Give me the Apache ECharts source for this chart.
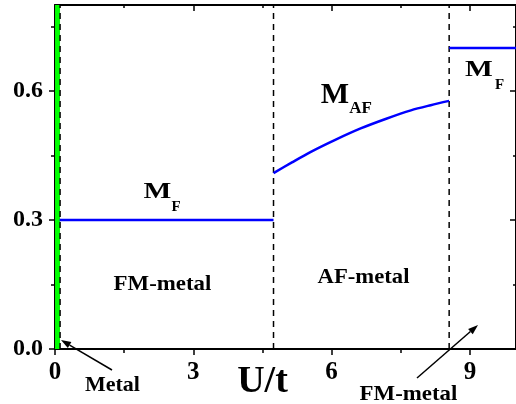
<!DOCTYPE html>
<html>
<head>
<meta charset="utf-8">
<script src="https://cdn.jsdelivr.net/npm/echarts@6/dist/echarts.min.js"></script>
<style>
html,body{margin:0;padding:0;background:#fff;}
#c{width:516px;height:404px;}
</style>
</head>
<body>
<div id="c"></div>
<script>
// ---- data ----
const xMajorTicks = [0, 3, 6, 9];
const xMinorTicks = [1.5, 4.5, 7.5];
const yMajorTicks = [0, 0.3, 0.6];
const yMinorTicks = [0.15, 0.45, 0.75];

const mfLowX = [0.1, 4.74];
const mfLowY = [0.3, 0.3];

const afX = [4.74, 5.14, 5.54, 6.09, 6.63, 7.17, 7.72, 8.15, 8.55];
const afY = [0.409, 0.434, 0.458, 0.487, 0.513, 0.535, 0.555, 0.567, 0.577];

const mfHighX = [8.55, 10];
const mfHighY = [0.7, 0.7];

const metalBoundaryX = 0.055;      // green band
const phaseBoundaries = [0.11, 4.74, 8.55]; // dashed lines
const yTop = 0.8;

function pairs(xs, ys) { return xs.map((x, i) => [x, ys[i]]); }

const FONT = '"Liberation Serif", "Times New Roman", serif';
const chart = echarts.init(document.getElementById('c'), null, {renderer: 'canvas'});

function xAx(pos, ticks, len, inside, showLine, labels) {
  return {
    type: 'value', position: pos, min: 0, max: 10, gridIndex: 0,
    axisLine: {show: showLine, onZero: false, lineStyle: {color: '#000', width: 2}},
    axisTick: {show: true, inside: inside, length: len, customValues: ticks, lineStyle: {color: '#000', width: 1.5}},
    axisLabel: labels ? {show: true, customValues: labels, margin: 11, color: '#000',
      fontFamily: FONT, fontWeight: 'bold', fontSize: 25, formatter: v => String(Math.round(v))} : {show: false},
    splitLine: {show: false}
  };
}
function yAx(pos, ticks, len, inside, showLine, labels) {
  return {
    type: 'value', position: pos, min: 0, max: yTop, gridIndex: 0,
    axisLine: {show: showLine, onZero: false, lineStyle: {color: '#000', width: 2}},
    axisTick: {show: true, inside: inside, length: len, customValues: ticks, lineStyle: {color: '#000', width: 1.5}},
    axisLabel: labels ? {show: true, customValues: labels, margin: 12, color: '#000',
      fontFamily: FONT, fontWeight: 'bold', fontSize: 24, formatter: v => v.toFixed(1)} : {show: false},
    splitLine: {show: false}
  };
}

const series = [];
series.push({
  type: 'line', data: [[metalBoundaryX, 0], [metalBoundaryX, yTop]], symbol: 'none',
  lineStyle: {color: '#00ff00', width: 5}, silent: true, z: 2
});
phaseBoundaries.forEach(b => series.push({
  type: 'line', data: [[b, 0], [b, yTop]], symbol: 'none',
  lineStyle: {color: '#000', width: 1.5, type: [6, 5]}, silent: true, z: 3
}));
[[mfLowX, mfLowY, false], [afX, afY, true], [mfHighX, mfHighY, false]].forEach(([xs, ys, sm]) => series.push({
  type: 'line', data: pairs(xs, ys), symbol: 'none', smooth: sm ? 0.3 : false,
  lineStyle: {color: '#0000ff', width: 2.5}, silent: true, z: 4
}));

function txt(t, cx, cy, size, sx) {
  return {type: 'text', x: cx, y: cy, scaleX: sx || 1, z: 100,
    style: {text: t, x: 0, y: 0, fill: '#000', font: 'bold ' + size + 'px ' + FONT, align: 'center', verticalAlign: 'middle'}};
}
function arrow(x1, y1, x2, y2) {
  const a = Math.atan2(y2 - y1, x2 - x1), L = 10, W = 3.5;
  const bx = x2 - L * Math.cos(a), by = y2 - L * Math.sin(a);
  const px = -Math.sin(a) * W, py = Math.cos(a) * W;
  return [
    {type: 'line', z: 100, shape: {x1: x1, y1: y1, x2: bx, y2: by}, style: {stroke: '#000', lineWidth: 1.5}},
    {type: 'polygon', z: 100, shape: {points: [[x2, y2], [bx + px, by + py], [bx - px, by - py]]}, style: {fill: '#000'}}
  ];
}

const graphic = [
  txt('M', 157.5, 192.5, 23, 1.28), txt('F', 176, 207, 15),
  txt('M', 335, 95, 30), txt('AF', 360.5, 109, 17),
  txt('M', 479, 70.5, 23, 1.28), txt('F', 499.5, 85, 15),
  txt('FM-metal', 162.5, 284, 22, 1.04),
  txt('AF-metal', 363.5, 277.5, 22, 1.03),
  txt('Metal', 112.5, 385.5, 22),
  txt('FM-metal', 408.5, 394.5, 22, 1.04),
  txt('U/t', 262.5, 382, 38)
].concat(arrow(112, 370, 61, 340), arrow(417, 378, 478, 325));

chart.setOption({
  animation: false,
  backgroundColor: '#fff',
  grid: {left: 55, top: 5, right: 0, bottom: 55, containLabel: false},
  xAxis: [
    xAx('bottom', xMajorTicks, 6, false, true, xMajorTicks),
    xAx('bottom', xMinorTicks, 4, false, false, null),
    xAx('top', [3, 6, 9], 6, true, true, null),
    xAx('top', xMinorTicks, 3, true, false, null)
  ],
  yAxis: [
    yAx('left', yMajorTicks, 6, false, true, yMajorTicks),
    yAx('left', yMinorTicks, 4, false, false, null),
    yAx('right', [0.3, 0.6], 6, true, true, null),
    yAx('right', yMinorTicks, 3, true, false, null)
  ],
  series: series,
  graphic: graphic
});
</script>
</body>
</html>
